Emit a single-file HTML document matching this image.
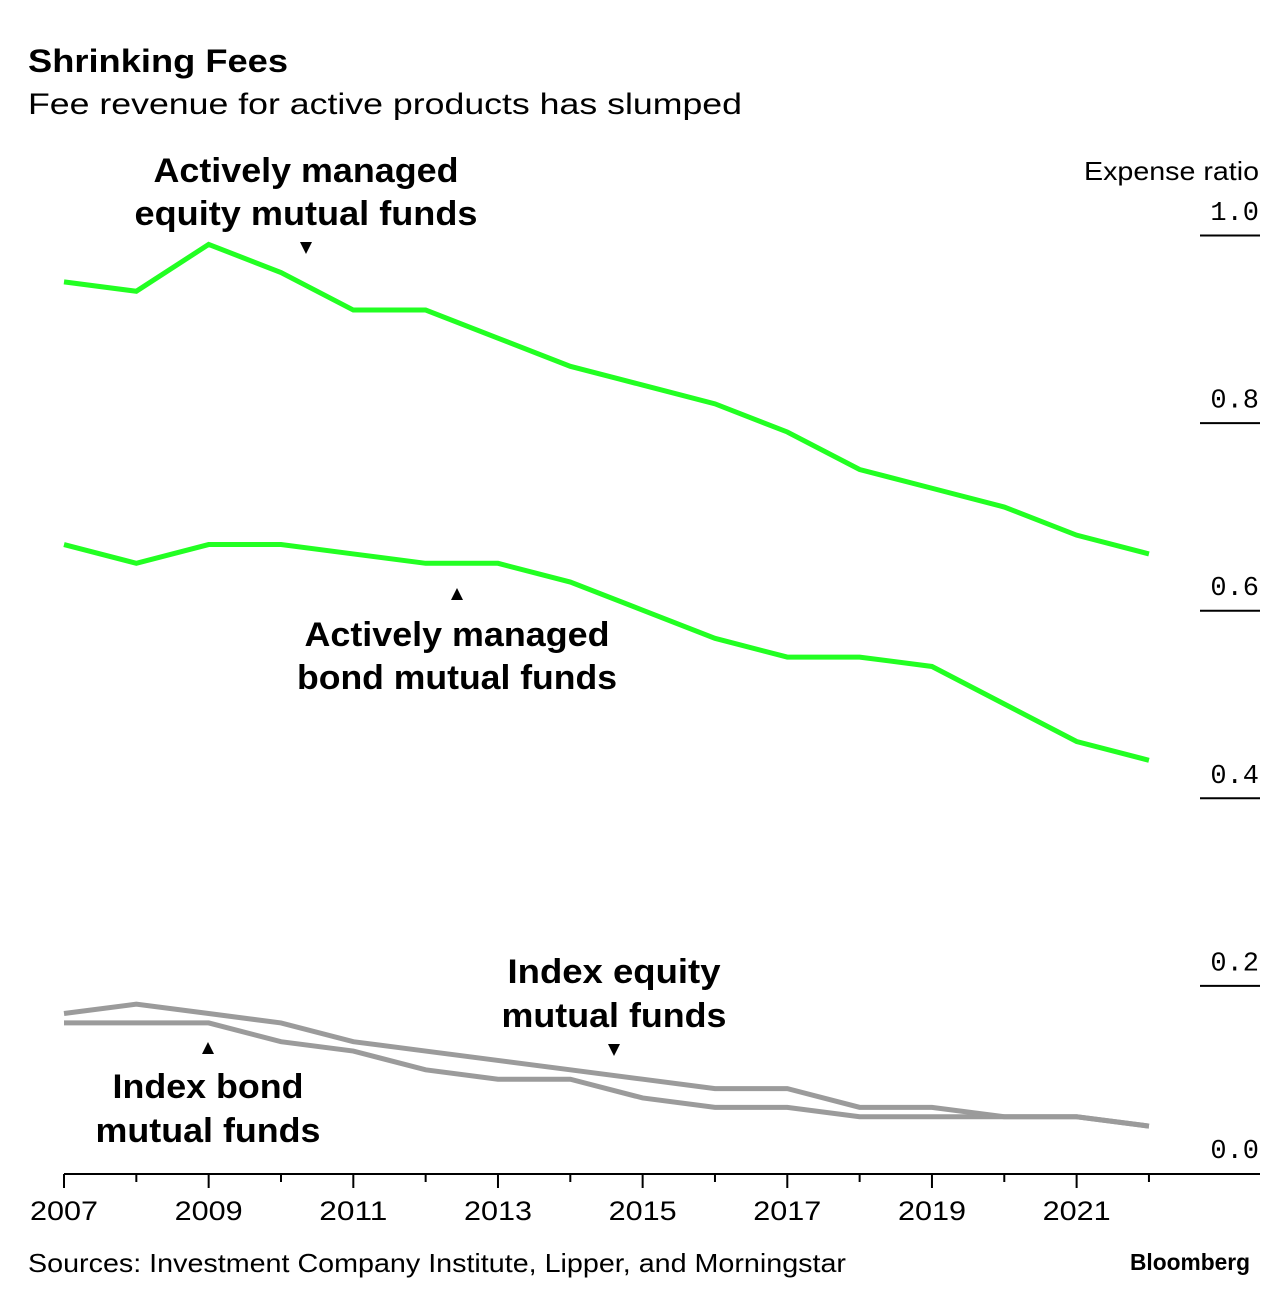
<!DOCTYPE html>
<html><head><meta charset="utf-8">
<style>
html,body{margin:0;padding:0;background:#fff;}
body{width:1288px;height:1296px;overflow:hidden;font-family:"Liberation Sans",sans-serif;}
</style></head>
<body>
<svg id="chart" width="1288" height="1296" xmlns="http://www.w3.org/2000/svg" font-family="Liberation Sans, sans-serif">
<text x="28" y="72" font-size="32" font-weight="bold" fill="#000" textLength="260" lengthAdjust="spacingAndGlyphs">Shrinking Fees</text>
<text x="28" y="114" font-size="30" fill="#000" textLength="714" lengthAdjust="spacingAndGlyphs">Fee revenue for active products has slumped</text>
<text x="1084" y="180" font-size="26" fill="#000" textLength="175" lengthAdjust="spacingAndGlyphs">Expense ratio</text>
<g id="yticks"></g>
<g id="xticks"></g>
<g id="series"></g>
<g font-size="34" font-weight="bold" text-anchor="middle">
<text x="306" y="182" textLength="305" lengthAdjust="spacingAndGlyphs">Actively managed</text><text x="306" y="225" textLength="343" lengthAdjust="spacingAndGlyphs">equity mutual funds</text>
<path d="M300 242 L312 242 L306 254 Z" fill="#000"/></g>
<g font-size="34" font-weight="bold" text-anchor="middle">
<path d="M451 600 L463 600 L457 588 Z" fill="#000"/>
<text x="457" y="646" textLength="305" lengthAdjust="spacingAndGlyphs">Actively managed</text><text x="457" y="689" textLength="320" lengthAdjust="spacingAndGlyphs">bond mutual funds</text></g>
<g font-size="34" font-weight="bold" text-anchor="middle">
<text x="614" y="983" textLength="213" lengthAdjust="spacingAndGlyphs">Index equity</text><text x="614" y="1027" textLength="225" lengthAdjust="spacingAndGlyphs">mutual funds</text>
<path d="M608 1044 L620 1044 L614 1056 Z" fill="#000"/></g>
<g font-size="34" font-weight="bold" text-anchor="middle">
<path d="M202 1054 L214 1054 L208 1042 Z" fill="#000"/>
<text x="208" y="1098" textLength="191" lengthAdjust="spacingAndGlyphs">Index bond</text><text x="208" y="1142" textLength="225" lengthAdjust="spacingAndGlyphs">mutual funds</text></g>
<text x="28" y="1272" font-size="26" fill="#000" textLength="818" lengthAdjust="spacingAndGlyphs">Sources: Investment Company Institute, Lipper, and Morningstar</text>
<text x="1130" y="1270" font-size="23" font-weight="bold" fill="#000" textLength="120" lengthAdjust="spacingAndGlyphs">Bloomberg</text>
</svg>
<script>
const years=[2007,2008,2009,2010,2011,2012,2013,2014,2015,2016,2017,2018,2019,2020,2021,2022];
const activeEquity=[0.95,0.94,0.99,0.96,0.92,0.92,0.89,0.86,0.84,0.82,0.79,0.75,0.73,0.71,0.68,0.66];
const activeBond=[0.67,0.65,0.67,0.67,0.66,0.65,0.65,0.63,0.60,0.57,0.55,0.55,0.54,0.50,0.46,0.44];
const indexEquity=[0.17,0.18,0.17,0.16,0.14,0.13,0.12,0.11,0.10,0.09,0.09,0.07,0.07,0.06,0.06,0.05];
const indexBond=[0.16,0.16,0.16,0.14,0.13,0.11,0.10,0.10,0.08,0.07,0.07,0.06,0.06,0.06,0.06,0.05];
const yTicks=[0,0.2,0.4,0.6,0.8,1.0];
const yTickLabels=["0.0","0.2","0.4","0.6","0.8","1.0"];
const xTickYears=[2007,2009,2011,2013,2015,2017,2019,2021];
const NS="http://www.w3.org/2000/svg";
function x(yr){return 64+(yr-2007)*72.33;}
function y(v){return 1173-v*938;}
function mk(tag,attrs,parent){const e=document.createElementNS(NS,tag);for(const k in attrs)e.setAttribute(k,attrs[k]);parent.appendChild(e);return e;}
const yg=document.getElementById('yticks');
yTicks.forEach((v,i)=>{
  if(v>0){const l=mk('line',{x1:1200,x2:1260,y1:y(v)+0.5,y2:y(v)+0.5,stroke:'#000','stroke-width':2},yg);
  
  }
  const t=mk('text',{x:1259,y:y(v)-15,'font-size':27,'text-anchor':'end',style:'font-family:"Liberation Mono",monospace'},yg);
  t.textContent=yTickLabels[i];
  
  
});
const xg=document.getElementById('xticks');
const ax=mk('line',{x1:64,x2:1260,y1:1174,y2:1174,stroke:'#000','stroke-width':2},xg);


years.forEach(yr=>{
  const tk=mk('line',{x1:x(yr),x2:x(yr),y1:1174,y2:yr%2===1?1188:1182,stroke:'#000','stroke-width':2},xg);
  
  
});
xTickYears.forEach(yr=>{
  const t=mk('text',{x:x(yr),y:1220,'font-size':27,'text-anchor':'middle',textLength:68,lengthAdjust:'spacingAndGlyphs'},xg);
  t.textContent=yr;
  
  
});
const sg=document.getElementById('series');
function line(vals,color,name){
  const p=mk('polyline',{points:vals.map((v,i)=>x(years[i])+','+y(v)).join(' '),fill:'none',stroke:color,'stroke-width':5,'stroke-linejoin':'miter'},sg);
  
  
}
line(indexBond,'#9b9b9b','line-index-bond');
line(indexEquity,'#9b9b9b','line-index-equity');
line(activeBond,'#22ff22','line-active-bond');
line(activeEquity,'#22ff22','line-active-equity');
</script>
</body></html>
